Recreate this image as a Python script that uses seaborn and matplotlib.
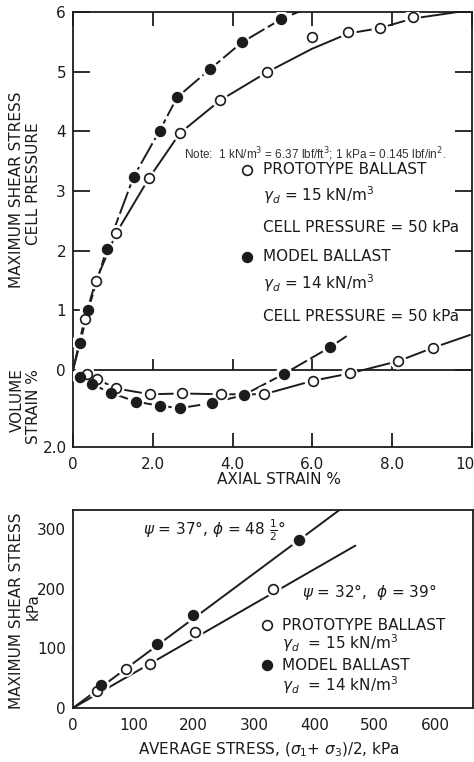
import matplotlib
matplotlib.use("Agg")
import matplotlib.pyplot as plt
import seaborn as sns
import pandas as pd

sns.set_theme(style="white")
plt.rcParams['font.family'] = ['DejaVu Sans']
plt.rcParams['mathtext.fontset'] = 'dejavusans'

INK = "#1c1c1c"

# ---------------- data: top panel (stress ratio vs axial strain) ----------------
proto_strain = [0.29, 0.57, 1.08, 1.90, 2.68, 3.69, 4.86, 5.98, 6.90, 7.69, 8.51]
proto_ratio = [0.85, 1.49, 2.29, 3.21, 3.97, 4.52, 4.99, 5.58, 5.66, 5.73, 5.91]
proto_curve_x = [0, 0.29, 0.57, 1.08, 1.90, 2.68, 3.69, 4.86, 5.98, 6.90, 7.69, 8.51, 9.95]
proto_curve_y = [0, 0.85, 1.49, 2.29, 3.21, 3.97, 4.52, 4.99, 5.38, 5.64, 5.73, 5.89, 6.03]

model_strain = [0.18, 0.38, 0.84, 1.52, 2.17, 2.61, 3.43, 4.23, 5.22]
model_ratio = [0.46, 1.01, 2.02, 3.24, 4.01, 4.57, 5.04, 5.49, 5.88]
model_curve_x = [0, 0.18, 0.38, 0.84, 1.52, 2.17, 2.61, 3.43, 4.23, 5.22, 5.75]
model_curve_y = [0, 0.46, 1.01, 2.02, 3.24, 4.01, 4.57, 5.04, 5.49, 5.88, 6.03]

# volume strain (%; compression positive, plotted downward)
proto_vstrain_x = [0.34, 0.61, 1.08, 1.93, 2.73, 3.71, 4.79, 6.01, 6.93, 8.15, 9.03]
proto_vstrain = [0.10, 0.24, 0.48, 0.63, 0.61, 0.63, 0.63, 0.28, 0.09, -0.23, -0.58]
proto_vcurve_x = [0] + proto_vstrain_x + [9.95]
proto_vcurve_y = [0] + proto_vstrain + [-0.91]

model_vstrain_x = [0.18, 0.48, 0.94, 1.57, 2.18, 2.68, 3.48, 4.28, 5.29, 6.44]
model_vstrain = [0.17, 0.37, 0.59, 0.82, 0.93, 0.99, 0.86, 0.65, 0.10, -0.59]
model_vcurve_x = [0] + model_vstrain_x + [6.93]
model_vcurve_y = [0] + model_vstrain + [-0.93]

top_xticks = [0, 2, 4, 6, 8, 10]
top_xticklabels = ["0", "2.0", "4.0", "6.0", "8.0", "10.0"]
top_yticks = [0, 1, 2, 3, 4, 5, 6]

# ---------------- data: bottom panel (max shear vs average stress) ----------------
proto_avg = [40, 88, 127, 202, 332]
proto_shear = [29, 66, 74, 127, 200]
proto_line_x = [0, 468]
proto_line_y = [0, 272]

model_avg = [47, 139, 199, 374]
model_shear = [38, 108, 155, 282]
model_line_x = [0, 442]
model_line_y = [0, 332]

bot_xticks = [0, 100, 200, 300, 400, 500, 600]
bot_yticks = [0, 100, 200, 300]

# ---------------- figure ----------------
W, H = 474, 762
fig = plt.figure(figsize=(W / 100, H / 100), dpi=100)


def rect(l, t, r, b):
    return [l / W, 1 - b / H, (r - l) / W, (b - t) / H]


def fx(px):
    return px / W


def fy(py):
    return 1 - py / H


FS = 11
LW = 1.4
MS = 7.0


def draw_line(ax, x, y, dashes=None):
    df = pd.DataFrame({"x": x, "y": y})
    sns.lineplot(data=df, x="x", y="y", ax=ax, color=INK, lw=LW,
                 estimator=None, sort=False, zorder=2, legend=False)
    if dashes is not None:
        ax.lines[-1].set_dashes(dashes)


def draw_points(ax, x, y, filled):
    df = pd.DataFrame({"x": x, "y": y})
    sns.scatterplot(data=df, x="x", y="y", ax=ax, s=(MS + 5) ** 2, color="white",
                    edgecolor="none", linewidth=0, zorder=3, legend=False)
    sns.scatterplot(data=df, x="x", y="y", ax=ax, s=MS ** 2,
                    color=INK if filled else "white", edgecolor=INK,
                    linewidth=1.2, zorder=4, legend=False)


# top axes (stress ratio)
ax = fig.add_axes(rect(73, 12, 472, 447))
ax.set_xlim(0, 9.95)
ax.set_ylim((370 - 447) / 59.67, 6.0)
# volume strain axes overlaid
axv = fig.add_axes(rect(73, 12, 472, 447), sharex=ax)
axv.patch.set_visible(False)
for s in axv.spines.values():
    s.set_visible(False)
axv.set_ylim(2.0, -(370 - 12) / 38.5)

draw_line(ax, proto_curve_x, proto_curve_y)
draw_points(ax, proto_strain, proto_ratio, False)
draw_line(ax, model_curve_x, model_curve_y, dashes=(12, 2))
draw_points(ax, model_strain, model_ratio, True)

draw_line(axv, proto_vcurve_x, proto_vcurve_y)
draw_points(axv, proto_vstrain_x, proto_vstrain, False)
draw_line(axv, model_vcurve_x, model_vcurve_y, dashes=(10, 2))
draw_points(axv, model_vstrain_x, model_vstrain, True)

ax.axhline(0, color=INK, lw=1.3, zorder=1)
ax.vlines(top_xticks[1:-1], 0, 0.18, color=INK, lw=1.3, zorder=1)

for s in ax.spines.values():
    s.set_color(INK)
    s.set_linewidth(1.3)
ax.set_xticks(top_xticks)
ax.set_xticklabels(top_xticklabels)
ax.set_yticks(top_yticks)
ax.set_yticklabels([str(v) for v in top_yticks])
ax.tick_params(axis="both", direction="in", length=12, width=1.3, color=INK,
               labelsize=FS, labelcolor=INK, pad=5)
ax.tick_params(axis="x", top=True, bottom=True, length=10, pad=7)
ax.tick_params(axis="y", left=True, right=True)
ax.set_xlabel("")
ax.set_ylabel("")

axv.set_yticks([2.0])
axv.set_yticklabels(["2.0"])
axv.tick_params(axis="y", left=True, length=0, labelsize=FS, labelcolor=INK, pad=4)
axv.tick_params(axis="x", bottom=False, labelbottom=False)
axv.set_xlabel("")
axv.set_ylabel("")

# top annotations
fig.text(fx(184), fy(154), "Note:  1 kN/m$^3$ = 6.37 lbf/ft$^3$; 1 kPa = 0.145 lbf/in$^2$.",
         family="Liberation Sans", fontsize=8.5, color="#333333", va="center", ha="left")


def legend_block(x_mark, x_text, rows):
    for py, kind, txt in rows:
        if kind is not None:
            fig.lines.append(plt.Line2D([fx(x_mark)], [fy(py)], transform=fig.transFigure,
                                        marker="o", ms=MS, mew=1.2, mec=INK,
                                        mfc=INK if kind == "filled" else "white",
                                        linestyle="none"))
        fig.text(fx(x_text), fy(py), txt, fontsize=FS, color=INK, va="center", ha="left")


legend_block(247, 263, [
    (170, "open", "PROTOTYPE BALLAST"),
    (195, None, r"$\gamma_d$ = 15 kN/m$^3$"),
    (228, None, "CELL PRESSURE = 50 kPa"),
    (257, "filled", "MODEL BALLAST"),
    (283, None, r"$\gamma_d$ = 14 kN/m$^3$"),
    (316, None, "CELL PRESSURE = 50 kPa"),
])

fig.text(fx(17), fy(190), "MAXIMUM SHEAR STRESS", rotation=90, fontsize=FS, color=INK,
         ha="center", va="center")
fig.text(fx(33), fy(184), "CELL PRESSURE", rotation=90, fontsize=FS, color=INK,
         ha="center", va="center")
fig.text(fx(17), fy(400), "VOLUME", rotation=90, fontsize=FS, color=INK,
         ha="center", va="center")
fig.text(fx(34), fy(407), "STRAIN %", rotation=90, fontsize=FS, color=INK,
         ha="center", va="center")
fig.text(fx(279), fy(480), "AXIAL STRAIN %", fontsize=FS, color=INK,
         ha="center", va="center")

# bottom axes
bx = fig.add_axes(rect(73, 510, 473, 708))
bx.set_xlim(0, 663)
bx.set_ylim(0, 331.7)
draw_line(bx, model_line_x, model_line_y)
draw_line(bx, proto_line_x, proto_line_y)
draw_points(bx, proto_avg, proto_shear, False)
draw_points(bx, model_avg, model_shear, True)
for s in bx.spines.values():
    s.set_color(INK)
    s.set_linewidth(1.3)
bx.set_xticks(bot_xticks)
bx.set_yticks(bot_yticks)
bx.tick_params(axis="both", direction="in", length=12, width=1.3, color=INK,
               labelsize=FS, labelcolor=INK, pad=5)
bx.tick_params(axis="x", length=10, pad=7)
bx.set_xlabel("")
bx.set_ylabel("")

fig.text(fx(143), fy(530), r"$\psi$ = 37°, $\phi$ = 48 $\frac{1}{2}$°", fontsize=FS,
         color=INK, ha="left", va="center")
fig.text(fx(302), fy(592), r"$\psi$ = 32°,  $\phi$ = 39°", fontsize=FS,
         color=INK, ha="left", va="center")
legend_block(267, 282, [
    (625, "open", "PROTOTYPE BALLAST"),
    (643, None, r"$\gamma_d$  = 15 kN/m$^3$"),
    (665, "filled", "MODEL BALLAST"),
    (685, None, r"$\gamma_d$  = 14 kN/m$^3$"),
])

fig.text(fx(17), fy(611), "MAXIMUM SHEAR STRESS", rotation=90, fontsize=FS, color=INK,
         ha="center", va="center")
fig.text(fx(33), fy(607), "kPa", rotation=90, fontsize=FS, color=INK,
         ha="center", va="center")
fig.text(fx(269), fy(750), r"AVERAGE STRESS, ($\sigma_1$+ $\sigma_3$)/2, kPa", fontsize=FS,
         color=INK, ha="center", va="center")

fig.savefig("out.png", dpi=100)
